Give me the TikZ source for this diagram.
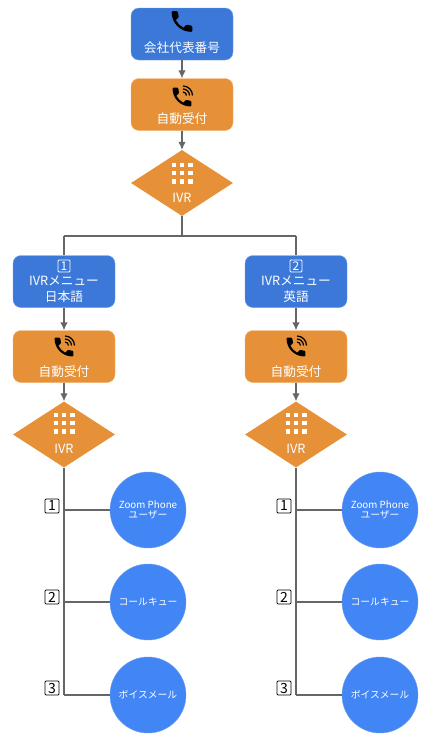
\documentclass[tikz,border=0pt]{standalone}
\usepackage{fontspec}
\setmainfont{Noto Sans CJK JP}
\usetikzlibrary{
	arrows.meta,
	shapes.geometric
}
\definecolor{MenuBlue}{HTML}{3C78D8}
\definecolor{BlueEdge}{HTML}{6D9EEB}
\definecolor{AutoOrange}{HTML}{E69138}
\definecolor{OrangeEdge}{HTML}{F6B26B}
\definecolor{UserBlue}{HTML}{4285F4}
\definecolor{LineGray}{HTML}{666666}
\tikzset{
	bluebox/.style={draw=BlueEdge, fill=MenuBlue, rounded corners=8pt, minimum width=102pt, minimum height=52pt, inner sep=0pt},
	orangebox/.style={draw=OrangeEdge, fill=AutoOrange, rounded corners=8pt, minimum width=102pt, minimum height=52pt, inner sep=0pt},
	ivrshape/.style={diamond, fill=AutoOrange, minimum width=102pt, minimum height=66pt, aspect=1.55, inner sep=0pt},
	usercircle/.style={circle, fill=UserBlue, draw=BlueEdge, minimum size=76pt, inner sep=0pt, text=white, align=center, font=\fontsize{9.8}{10.5}\selectfont},
	boxtext/.style={text=white, inner sep=0pt, align=center, font=\fontsize{12.7}{15.5}\selectfont},
	numtag/.style={draw=black, line width=0.9pt, rounded corners=1pt, fill=white, minimum width=14pt, minimum height=14pt, inner sep=0pt, font=\fontsize{14}{14}\selectfont},
	numtagw/.style={draw=white, line width=0.9pt, rounded corners=1pt, text=white, minimum width=12pt, minimum height=12pt, inner sep=0pt, font=\fontsize{12}{12}\selectfont},
	flow/.style={draw=LineGray, line width=1.1pt},
	flowarrow/.style={flow, -{Latex[length=8pt,width=7.5pt]}},
	phone/.pic={
		\fill[shift={(-12,-12)}] (6.62,10.79) .. controls (8.06,13.62) and (10.38,15.93) .. (13.21,17.38)
			-- (15.41,15.18) .. controls (15.68,14.91) and (16.08,14.82) .. (16.43,14.94)
			.. controls (17.55,15.31) and (18.76,15.51) .. (20,15.51)
			.. controls (20.55,15.51) and (21,15.96) .. (21,16.51)
			-- (21,20) .. controls (21,20.55) and (20.55,21) .. (20,21)
			.. controls (10.61,21) and (3,13.39) .. (3,4)
			.. controls (3,3.45) and (3.45,3) .. (4,3)
			-- (7.5,3) .. controls (8.05,3) and (8.5,3.45) .. (8.5,4)
			.. controls (8.5,5.25) and (8.7,6.45) .. (9.07,7.57)
			.. controls (9.18,7.92) and (9.1,8.31) .. (8.82,8.59) -- cycle;
	},
	wavephone/.pic={
		\pic[scale=1.05] {phone};
		\draw[line width=1.2pt] (1,-5) arc (270:360:3.5);
		\draw[line width=1.2pt] (1,-8) arc (270:360:6.5);
		\draw[line width=1.2pt] (1,-11) arc (270:360:9.5);
	},
	keypad/.pic={
		\foreach \kx in {-8.3,0,8.3}
			\foreach \ky in {-8.3,0,8.3}
				\fill[white] (\kx-2.2,\ky-2.2) rectangle (\kx+2.2,\ky+2.2);
	}
}
\begin{document}
\begin{tikzpicture}[x=1pt, y=-1pt]
	\useasboundingbox (0,0) rectangle (437,739);
	% 代表番号
	\node[bluebox] (main) at (182,34) {};
	\pic[scale=1.15] at (182,21.5) {phone};
	\node[boxtext] (maintext) at (182,48) {会社代表番号};
	\node[orangebox] (auto) at (182,104.5) {};
	\pic at (182,97) {wavephone};
	\node[boxtext] (autotext) at (182,119) {自動受付};
	\node[ivrshape] (ivr) at (182,183) {};
	\pic at (182,173) {keypad};
	\node[boxtext] (ivrtext) at (182,198) {IVR};
	\draw[flowarrow] (main) -- (auto);
	\draw[flowarrow] (auto) -- (ivr);
	\coordinate (fork) at (182,236);
	\draw[flow] (ivr) -- (fork);
	% 言語別の列
	\foreach \cx/\num/\lang in {64/1/日本語, 296/2/英語} {
		\coordinate (top\num) at (\cx,236);
		\draw[flow] (fork) -- (top\num);
		\node[bluebox] (menu\num) at (\cx,281.5) {};
		\node[numtagw] (menutag\num) at (\cx,266) {\num};
		\node[boxtext] (menutext\num) at (\cx,289) {IVRメニュー\\\lang};
		\node[orangebox] (auto\num) at (\cx,356.5) {};
		\pic at (\cx,347) {wavephone};
		\node[boxtext] (autotext\num) at (\cx,372) {自動受付};
		\node[ivrshape] (ivr\num) at (\cx,434.5) {};
		\pic at (\cx,423) {keypad};
		\node[boxtext] (ivrtext\num) at (\cx,449) {IVR};
		\draw[flow] (top\num) -- (menu\num);
		\draw[flowarrow] (menu\num) -- (auto\num);
		\draw[flowarrow] (auto\num) -- (ivr\num);
		\coordinate (end\num) at (\cx,695);
		\draw[flow] (ivr\num) -- (end\num);
		% 着信先
		\foreach \row/\cy/\ty/\dest in {1/510/506/{Zoom Phone\\ユーザー}, 2/602/597/コールキュー, 3/695/688/ボイスメール} {
			\node[usercircle] (dest\num\row) at (\cx+84,\cy) {\dest};
			\coordinate (tap\num\row) at (\cx,\cy);
			\draw[flow] (tap\num\row) -- (dest\num\row);
			\node[numtag] (tag\num\row) at (\cx-12,\ty) {\row};
		}
	}
\end{tikzpicture}
\end{document}
